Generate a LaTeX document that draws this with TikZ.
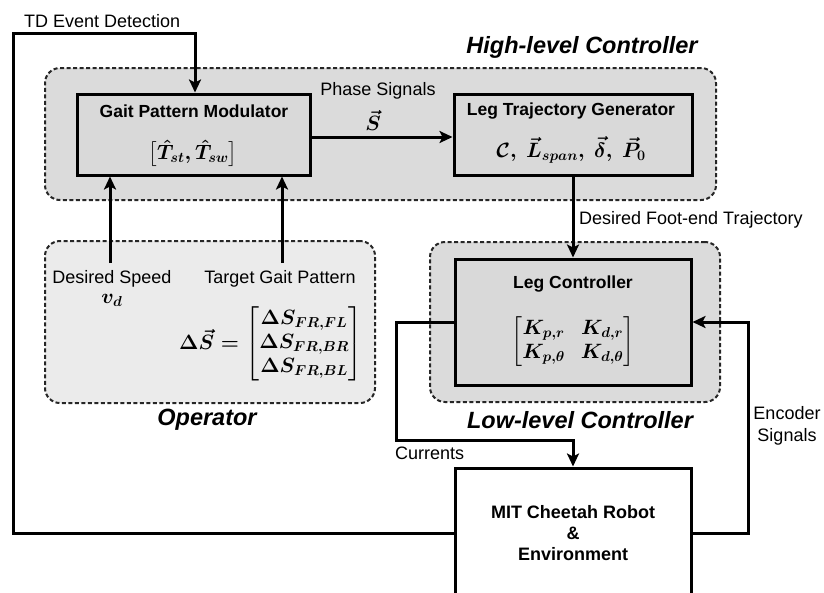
\documentclass[tikz,border=0pt]{standalone}
\usepackage{amsmath}
\usepackage{fontspec}
\setmainfont{Liberation Sans}
\usetikzlibrary{arrows.meta}
\definecolor{hlfill}{gray}{0.86}
\definecolor{opfill}{gray}{0.92}
\definecolor{boxfill}{gray}{0.85}
\tikzset{
  container/.style={draw=black!85, dash pattern=on 4pt off 2.5pt, line width=2pt, rounded corners=15pt, inner sep=0pt},
  blockbox/.style={draw=black, line width=3pt, fill=boxfill, inner sep=0pt},
  plainbox/.style={draw=black, line width=3pt, fill=white, inner sep=0pt},
  arr/.style={line width=3pt, -{Stealth[length=13pt,width=12pt,inset=3pt]}},
  lbl/.style={font=\fontsize{18}{20}\selectfont, inner sep=0pt},
  ttl/.style={font=\fontsize{17.5}{20}\selectfont\bfseries, inner sep=0pt},
  grp/.style={font=\fontsize{23.5}{26}\selectfont\bfseries\itshape, inner sep=0pt},
  mth/.style={font=\fontsize{20}{24}\selectfont, inner sep=0pt}
}
\begin{document}
\begin{tikzpicture}[x=1pt,y=-1pt]
\useasboundingbox (0,0) rectangle (824,592);
\clip (0,0) rectangle (824,592);
% containers
\node[container, fill=hlfill, minimum width=671pt, minimum height=132pt] (hl) at (380.5,134) {};
\node[container, fill=opfill, minimum width=330pt, minimum height=162pt] (op) at (210,322) {};
\node[container, fill=hlfill, minimum width=290pt, minimum height=160pt] (ll) at (575,322) {};
% blocks
\node[blockbox, minimum width=233pt, minimum height=81pt] (gpm) at (193.5,134.5) {};
\node[blockbox, minimum width=238pt, minimum height=81pt] (ltg) at (573,134.5) {};
\node[blockbox, minimum width=236pt, minimum height=126pt] (legc) at (573,322) {};
\node[plainbox, minimum width=236pt, minimum height=130pt] (robot) at (573,533) {};
% block texts
\node[ttl] (gpmt) at (194,111) {Gait Pattern Modulator};
\node[mth] (gpmm) at (193,153) {$\boldsymbol{\big[\hat{T}_{st},\hat{T}_{sw}\big]}$};
\node[ttl] (ltgt) at (571,111) {Leg Trajectory Generator};
\node[mth] (ltgm) at (571,150) {$\boldsymbol{\mathcal{C},\ \vec{L}_{span},\ \vec{\delta},\ \vec{P}_0}$};
\node[ttl] (legt) at (573,284) {Leg Controller};
\node[mth] (legm) at (573,342) {$\setlength{\arraycolsep}{8pt}\boldsymbol{\begin{bmatrix}K_{p,r} & K_{d,r}\\ K_{p,\theta} & K_{d,\theta}\end{bmatrix}}$};
\node[ttl, align=center, font=\fontsize{18}{21}\selectfont\bfseries] (robt) at (573,533) {MIT Cheetah Robot\\\&\\Environment};
% operator texts
\node[lbl] (dsl) at (112,279) {Desired Speed};
\node[mth] (vd) at (112,300) {$\boldsymbol{v_d}$};
\node[lbl] (tgl) at (280,279) {Target Gait Pattern};
\node[mth] (dsm) at (271,344) {$\boldsymbol{\Delta\vec{S} = \begin{bmatrix}\Delta S_{FR,FL}\\ \Delta S_{FR,BR}\\ \Delta S_{FR,BL}\end{bmatrix}}$};
% group titles
\node[grp] (hlt) at (582,47) {High-level Controller};
\node[grp] (opt) at (207,420) {Operator};
\node[grp] (llt) at (580,420) {Low-level Controller};
% coordinates
\coordinate (tdl) at (13,33);
\coordinate (tdr) at (195,33);
\coordinate (ds) at (110,263);
\coordinate (tg) at (282,263);
\coordinate (cu1) at (396,322);
\coordinate (cu2) at (396,440);
\coordinate (en) at (748,533);
% connectors
\draw[arr] (robot.west) -| (tdl) -- (tdr) -- (tdr |- gpm.north);
\draw[arr] (gpm.east |- 0,137) -- (ltg.west |- 0,137);
\draw[arr] (ds) -- (ds |- gpm.south);
\draw[arr] (tg) -- (tg |- gpm.south);
\draw[arr] (ltg.south) -- (legc.north);
\draw[arr] (legc.west) -- (cu1) -- (cu2) -| (robot.north);
\draw[arr] (robot.east) -- (en) |- (legc.east);
% connector labels
\node[lbl, anchor=west] (tdt) at (24,21) {TD Event Detection};
\node[lbl] (pst) at (378,91) {Phase Signals};
\node[mth] (psv) at (373,120) {$\boldsymbol{\vec{S}}$};
\node[lbl, anchor=west] (dft) at (579,220) {Desired Foot-end Trajectory};
\node[lbl, anchor=west] (cut) at (395,453) {Currents};
\node[lbl, align=center, font=\fontsize{18}{22}\selectfont] (enct) at (787,426) {Encoder\\Signals};
\end{tikzpicture}
\end{document}
